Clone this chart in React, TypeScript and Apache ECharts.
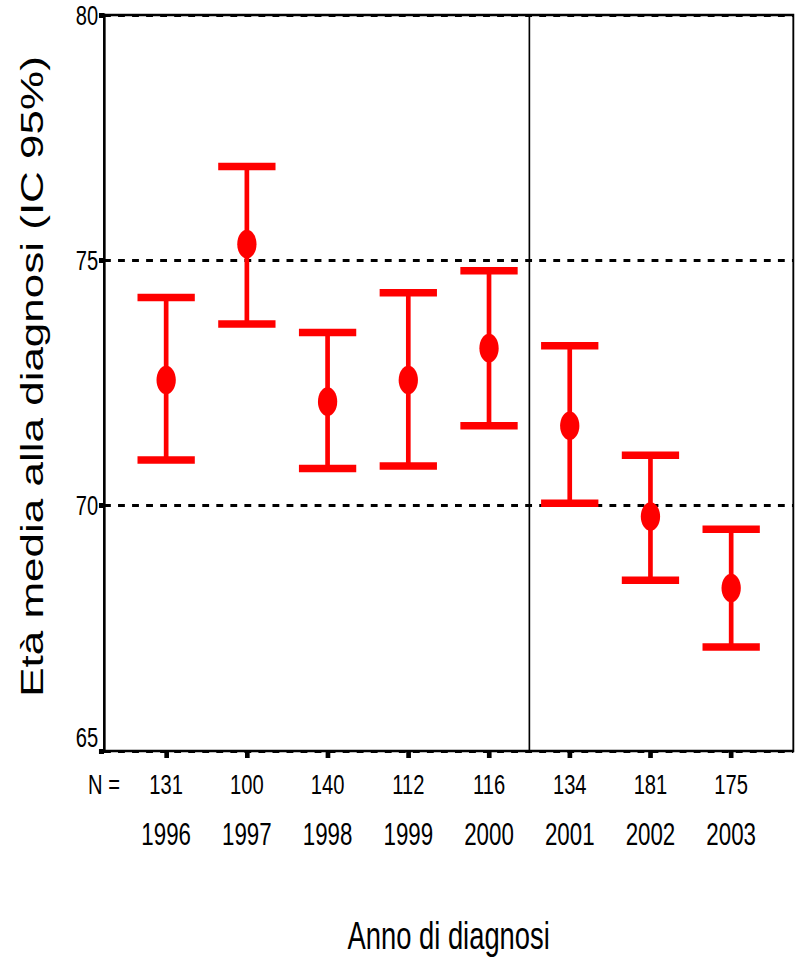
import React, { useEffect, useRef } from "react";
import * as echarts from "echarts";

// ---- data ----
const years = ["1996", "1997", "1998", "1999", "2000", "2001", "2002", "2003"];
const nCounts = [131, 100, 140, 112, 116, 134, 181, 175];
const means = [72.56, 75.33, 72.12, 72.56, 73.21, 71.63, 69.78, 68.32];
const upperCI = [74.24, 76.91, 73.53, 74.34, 74.79, 73.26, 71.03, 69.52];
const lowerCI = [70.93, 73.7, 70.76, 70.81, 71.63, 70.05, 68.48, 67.12];
const positions = [1, 2, 3, 4, 5, 6, 7, 8];
const separatorAt = 5.5;
const yMin = 65;
const yMax = 80;
const yInterval = 5;
const yTitle = "Età media alla diagnosi (IC 95%)";
const xTitle = "Anno di diagnosi";
const nLabel = "N =";

// horizontal squash of the whole chart (reference is compressed horizontally)
const S = 0.72;
const PAGE_W = 796;
const PAGE_H = 961;
const W = PAGE_W / S;

const FONT = "'Liberation Sans', Arial, sans-serif";
const RED = "#ff0000";

export default function App() {
  const ref = useRef<HTMLDivElement>(null);

  useEffect(() => {
    if (!ref.current) return;
    const chart = echarts.init(ref.current, null, { renderer: "svg" });

    const barData = positions.map((p, i) => [p, means[i], lowerCI[i], upperCI[i]]);

    const gridLeft = 104 / S;
    const gridRight = W - 793 / S;

    chart.setOption({
      animation: false,
      backgroundColor: "#ffffff",
      grid: {
        left: gridLeft,
        right: gridRight,
        top: 15,
        bottom: PAGE_H - 751,
        show: true,
        borderColor: "#000",
        borderWidth: 2.6,
        containLabel: false,
      },
      xAxis: [
        {
          type: "value",
          min: 0.23,
          max: 8.77,
          position: "bottom",
          axisLine: { show: true, lineStyle: { color: "#000", width: 2 } },
          axisTick: {
            show: true,
            customValues: positions,
            length: 7,
            inside: false,
            lineStyle: { color: "#000", width: 6.5 },
          },
          axisLabel: {
            show: true,
            customValues: positions,
            formatter: (v: number) => String(nCounts[positions.indexOf(Math.round(v))]),
            fontSize: 28,
            fontFamily: FONT,
            color: "#000",
            margin: 33,
            verticalAlign: "middle",
          },
          splitLine: { show: false },
        },
        {
          type: "value",
          min: 0.23,
          max: 8.77,
          position: "bottom",
          axisLine: { show: false },
          axisTick: { show: false },
          axisLabel: {
            show: true,
            customValues: positions,
            formatter: (v: number) => years[positions.indexOf(Math.round(v))],
            fontSize: 31,
            fontFamily: FONT,
            color: "#000",
            margin: 83.5,
            verticalAlign: "middle",
          },
          splitLine: { show: false },
          name: xTitle,
          nameLocation: "middle",
          nameGap: 184.5,
          nameTextStyle: {
            fontSize: 38,
            fontFamily: FONT,
            color: "#000",
            verticalAlign: "middle",
          },
        },
      ],
      yAxis: {
        type: "value",
        min: yMin,
        max: yMax,
        interval: yInterval,
        axisLine: { show: true, lineStyle: { color: "#000", width: 3.5 } },
        axisTick: { show: true, length: 7, lineStyle: { color: "#000", width: 5 } },
        axisLabel: {
          fontSize: 28,
          fontFamily: FONT,
          color: "#000",
          margin: 8,
          verticalAlignMinLabel: "bottom",
        },
        splitLine: {
          show: true,
          lineStyle: { color: "#000", width: 3, type: [9.5, 10] },
        },
      },
      graphic: [
        {
          type: "text",
          x: 44.4,
          y: 376.5,
          rotation: Math.PI / 2,
          style: {
            text: yTitle,
            fontSize: 44,
            fontFamily: FONT,
            fill: "#000",
            textAlign: "center",
            textVerticalAlign: "middle",
          },
        },
        {
          type: "text",
          x: 104 / S,
          y: 784,
          style: {
            text: nLabel,
            fontSize: 28,
            fontFamily: FONT,
            fill: "#000",
            textAlign: "center",
            textVerticalAlign: "middle",
          },
        },
      ],
      series: [
        {
          type: "line",
          xAxisIndex: 0,
          data: [
            [separatorAt, yMin],
            [separatorAt, yMax],
          ],
          symbol: "none",
          lineStyle: { color: "#000", width: 2.3 },
          z: 3,
          silent: true,
        },
        {
          type: "custom",
          xAxisIndex: 0,
          data: barData,
          encode: { x: 0, y: [1, 2, 3] },
          z: 5,
          renderItem: (params: any, api: any) => {
            const x = api.value(0);
            const pMean = api.coord([x, api.value(1)]);
            const pLow = api.coord([x, api.value(2)]);
            const pHigh = api.coord([x, api.value(3)]);
            const capW = api.size([1, 0])[0] * 0.71;
            const capH = 7.5;
            const stemW = 6.5;
            const style = { fill: RED };
            return {
              type: "group",
              children: [
                {
                  type: "rect",
                  shape: { x: pMean[0] - stemW / 2, y: pHigh[1], width: stemW, height: pLow[1] - pHigh[1] },
                  style,
                },
                {
                  type: "rect",
                  shape: { x: pHigh[0] - capW / 2, y: pHigh[1] - capH / 2, width: capW, height: capH },
                  style,
                },
                {
                  type: "rect",
                  shape: { x: pLow[0] - capW / 2, y: pLow[1] - capH / 2, width: capW, height: capH },
                  style,
                },
                {
                  type: "ellipse",
                  shape: { cx: pMean[0], cy: pMean[1], rx: 13.4, ry: 14.3 },
                  style,
                },
              ],
            };
          },
        },
      ],
    });

    return () => {
      chart.dispose();
    };
  }, []);

  return (
    <div
      style={{
        position: "fixed",
        left: 0,
        top: 0,
        width: PAGE_W,
        height: PAGE_H,
        overflow: "hidden",
        background: "#fff",
      }}
    >
      <div
        ref={ref}
        style={{
          width: W,
          height: PAGE_H,
          transform: `scaleX(${S})`,
          transformOrigin: "0 0",
        }}
      />
    </div>
  );
}
